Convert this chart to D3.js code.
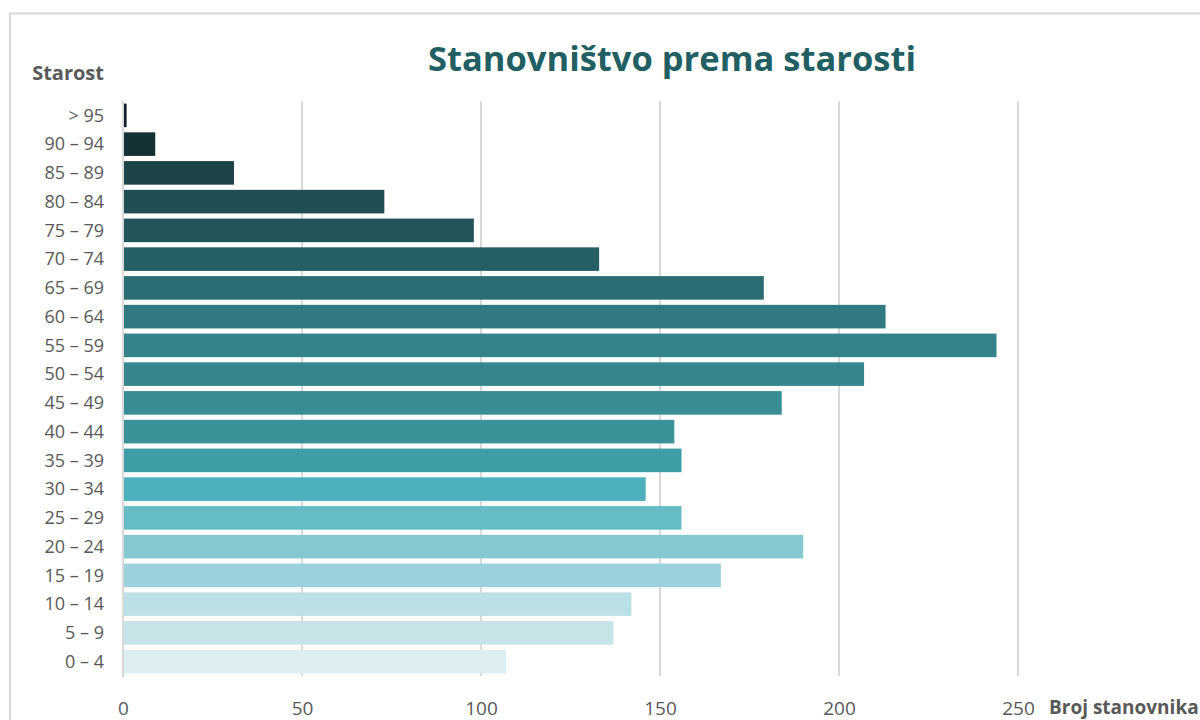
<!DOCTYPE html>
<html>
<head>
<meta charset="utf-8">
<script src="https://cdn.jsdelivr.net/npm/d3@7"></script>
<style>
  html, body { margin: 0; padding: 0; background: #fff; }
  svg { display: block; }
</style>
</head>
<body>
<svg id="chart" width="1200" height="720"></svg>
<script>
const categories = ["> 95","90 – 94","85 – 89","80 – 84","75 – 79","70 – 74","65 – 69","60 – 64","55 – 59","50 – 54","45 – 49","40 – 44","35 – 39","30 – 34","25 – 29","20 – 24","15 – 19","10 – 14","5 – 9","0 – 4"];
const values = [1, 9, 31, 73, 98, 133, 179, 213, 244, 207, 184, 154, 156, 146, 156, 190, 167, 142, 137, 107];
const barColors = ["#0b1f22","#143236","#1d4347","#204e52","#22555a","#255f65","#2b6d74","#307980","#34838a","#36878d","#388c93","#3a9198","#3e9ca4","#4cb0bd","#66bcc5","#84c8d0","#9bd1da","#bbe0e5","#c6e4e7","#dceef1"];
const xTicks = [0, 50, 100, 150, 200, 250];
const title = "Stanovništvo prema starosti";
const yTitle = "Starost";
const xTitle = "Broj stanovnika";

const svg = d3.select("#chart");
const font = "'Open Sans', 'Noto Sans', sans-serif";

// outer frame
svg.append("rect")
  .attr("x", 10).attr("y", 13.5).attr("width", 1220).attr("height", 740)
  .attr("fill", "none").attr("stroke", "#d9d9d9").attr("stroke-width", 2);

const mLeft = 123, mRight = 1018, mTop = 101, mBottom = 676;

const x = d3.scaleLinear().domain([0, 250]).range([mLeft, mRight]);
const y = d3.scaleBand().domain(categories).range([mTop, mBottom]).paddingInner(0.18).paddingOuter(0.09);

// gridlines
svg.append("g").selectAll("line").data(xTicks.filter(d => d > 0)).join("line")
  .attr("x1", d => x(d)).attr("x2", d => x(d))
  .attr("y1", mTop).attr("y2", mBottom)
  .attr("stroke", "#d9d9d9").attr("stroke-width", 2);

// bars
svg.append("g").selectAll("rect").data(values).join("rect")
  .attr("x", x(0) + 1)
  .attr("y", (d, i) => y(categories[i]))
  .attr("width", d => x(d) - x(0) - 1)
  .attr("height", y.bandwidth())
  .attr("fill", (d, i) => barColors[i]);

// zero axis line
svg.append("line")
  .attr("x1", x(0)).attr("x2", x(0)).attr("y1", mTop).attr("y2", mBottom + 1)
  .attr("stroke", "#d9d9d9").attr("stroke-width", 2);

// x tick labels
const xAxis = d3.axisBottom(x).tickValues(xTicks).tickSize(0).tickPadding(0);
const gx = svg.append("g").attr("transform", `translate(0, ${mBottom})`).call(xAxis);
gx.select(".domain").remove();
gx.selectAll("text")
  .attr("y", 39).attr("dy", null)
  .attr("fill", "#595959").style("font-family", font).style("font-size", "19px");

// y tick labels
const yAxis = d3.axisLeft(y).tickSize(0).tickPadding(0);
const gy = svg.append("g").attr("transform", `translate(104, 0)`).call(yAxis);
gy.select(".domain").remove();
gy.selectAll("text")
  .attr("dy", "0.35em")
  .attr("fill", "#595959").style("font-family", font).style("font-size", "18px");

// title
svg.append("text")
  .attr("x", 672).attr("y", 71)
  .attr("text-anchor", "middle")
  .attr("fill", "#215f63")
  .style("font-family", font).style("font-weight", "bold").style("font-size", "34.5px")
  .text(title);

// axis titles
svg.append("text")
  .attr("x", 104).attr("y", 80).attr("text-anchor", "end")
  .attr("fill", "#595959")
  .style("font-family", font).style("font-weight", "bold").style("font-size", "20px")
  .text(yTitle);

svg.append("text")
  .attr("x", 1049).attr("y", 714)
  .attr("fill", "#595959")
  .style("font-family", font).style("font-weight", "bold").style("font-size", "19px")
  .text(xTitle);
</script>
</body>
</html>
